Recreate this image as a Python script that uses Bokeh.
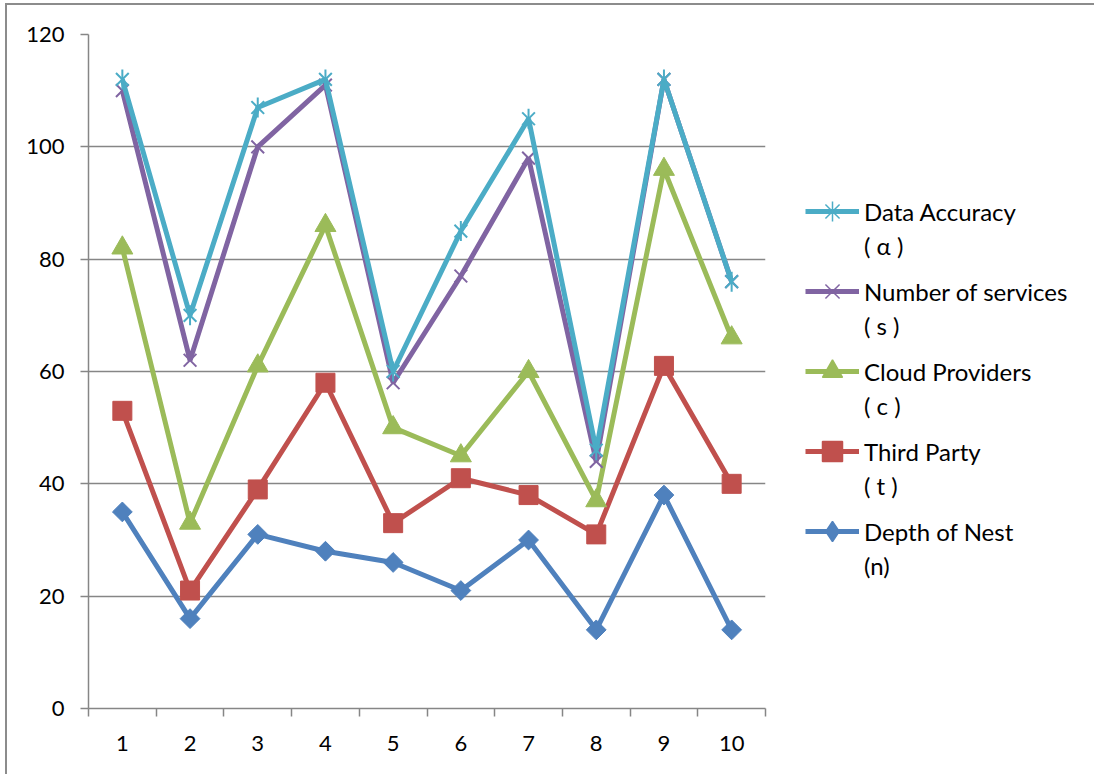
from bokeh.plotting import figure
from bokeh.layouts import row
from bokeh.models import ColumnDataSource, FixedTicker, Legend, LegendItem, Range1d
from bokeh.embed import file_html
from bokeh.resources import INLINE

# ---- data -------------------------------------------------------------
runs = [1, 2, 3, 4, 5, 6, 7, 8, 9, 10]
data_accuracy = [112, 70, 107, 112, 60, 85, 105, 46, 112, 76]
num_services = [110, 62, 100, 111, 58, 77, 98, 44, 112, 76]
cloud_providers = [82, 33, 61, 86, 50, 45, 60, 37, 96, 66]
third_party = [53, 21, 39, 58, 33, 41, 38, 31, 61, 40]
depth_of_nest = [35, 16, 31, 28, 26, 21, 30, 14, 38, 14]

series_names = ["Data Accuracy", "Number of services", "Cloud Providers",
                "Third Party", "Depth of Nest"]
series_symbols = ["( \u03b1 )", "( s )", "( c )", "( t )", "(n)"]
y_ticks = [0, 20, 40, 60, 80, 100, 120]

FONT = "Lato"
GRID = "#868686"
LW = 5

# marker / line styling per series (top of legend first)
styles = [
    dict(color="#4BACC6", markers=[dict(marker="x", size=18, line_width=2),
                                   dict(marker="dash", angle=1.5708, size=20, line_width=2)],
         legend_markers=[dict(marker="x"), dict(marker="cross")]),
    dict(color="#8064A2", markers=[dict(marker="x", size=18, line_width=2)],
         legend_markers=[dict(marker="x")]),
    dict(color="#9BBB59", markers=[dict(marker="triangle", size=21)],
         legend_markers=[dict(marker="triangle")]),
    dict(color="#C0504D", markers=[dict(marker="square", size=19)],
         legend_markers=[dict(marker="square")]),
    dict(color="#4F81BD", markers=[dict(marker="square", angle=0.785398, size=14)],
         legend_markers=[dict(marker="diamond")]),
]
columns = ["a", "s", "c", "t", "n"]

src = ColumnDataSource(dict(x=runs, a=data_accuracy, s=num_services,
                            c=cloud_providers, t=third_party, n=depth_of_nest))

# ---- main chart --------------------------------------------------------
p = figure(width=783, height=769, output_backend="svg", toolbar_location=None,
           x_range=Range1d(0.5, 10.5), y_range=Range1d(0, 120),
           min_border_left=81, min_border_right=25,
           min_border_top=29, min_border_bottom=66)
p.outline_line_color = None
p.background_fill_color = "white"
p.border_fill_color = "white"

p.xaxis.ticker = FixedTicker(ticks=runs, minor_ticks=[i + 0.5 for i in range(0, 11)])
p.xaxis.major_tick_out = 0
p.xaxis.major_tick_in = 0
p.xaxis.minor_tick_out = 8
p.xaxis.minor_tick_in = 0
p.xaxis.minor_tick_line_color = GRID
p.xaxis.minor_tick_line_width = 1.5
p.xaxis.major_label_standoff = 19

p.yaxis.ticker = FixedTicker(ticks=y_ticks)
p.yaxis.major_tick_out = 8
p.yaxis.major_tick_in = 0
p.yaxis.minor_tick_line_color = None
p.yaxis.major_tick_line_color = GRID
p.yaxis.major_tick_line_width = 1.5
p.yaxis.major_label_standoff = 16

for ax in (p.xaxis, p.yaxis):
    ax.axis_line_color = GRID
    ax.axis_line_width = 1.5
    ax.major_label_text_font = FONT
    ax.major_label_text_font_size = "22px"
    ax.major_label_text_color = "black"

p.xgrid.grid_line_color = None
p.ygrid.grid_line_color = GRID
p.ygrid.grid_line_width = 1.5

# draw bottom series first so Data Accuracy ends up on top
for col, st in reversed(list(zip(columns, styles))):
    p.line("x", col, source=src, line_color=st["color"], line_width=LW)
    for m in st["markers"]:
        p.scatter("x", col, source=src, fill_color=st["color"],
                  line_color=st["color"], **m)

# ---- legend panel ------------------------------------------------------
leg = figure(width=304, height=769, output_backend="svg", toolbar_location=None,
             x_range=Range1d(0, 1), y_range=Range1d(0, 1),
             x_axis_type=None, y_axis_type=None,
             min_border_left=0, min_border_right=0,
             min_border_top=0, min_border_bottom=0)
leg.outline_line_color = None
leg.grid.visible = False
leg.border_fill_color = "white"

# legend swatches only need the glyph styling; the single NaN point is never shown
swatch = ColumnDataSource(dict(x=[float("nan")], y=[float("nan")]))
blank = leg.line("x", "y", source=swatch, line_alpha=0)


def styled_legend(item, glyph_h, loc):
    lg = Legend(items=[item], location=loc)
    lg.label_text_font = FONT
    lg.label_text_font_size = "24px"
    lg.label_text_color = "black"
    lg.label_standoff = 5
    lg.glyph_width = 54
    lg.glyph_height = glyph_h
    lg.padding = 0
    lg.margin = 0
    lg.spacing = 0
    lg.border_line_color = None
    lg.background_fill_alpha = 0
    return lg


for i, (name, sym, st) in enumerate(zip(series_names, series_symbols, styles)):
    rends = [leg.line("x", "y", source=swatch, line_color=st["color"], line_width=LW)]
    for m in st["legend_markers"]:
        rends.append(leg.scatter("x", "y", source=swatch, fill_color=st["color"],
                                 line_color=st["color"], line_width=1.5, **m))
    leg.add_layout(styled_legend(LegendItem(label=name, renderers=rends), 50,
                                 (15, 472 - 80 * i)))
    leg.add_layout(styled_legend(LegendItem(label=sym, renderers=[blank]), 20,
                                 (15, 448 - 80 * i)))

layout = row(p, leg)
layout.styles = {"margin-left": "5px", "margin-top": "3px",
                 "border-left": "2px solid #8c8c8c", "border-top": "2px solid #8c8c8c"}

open("out.html", "w").write(file_html(layout, INLINE))
